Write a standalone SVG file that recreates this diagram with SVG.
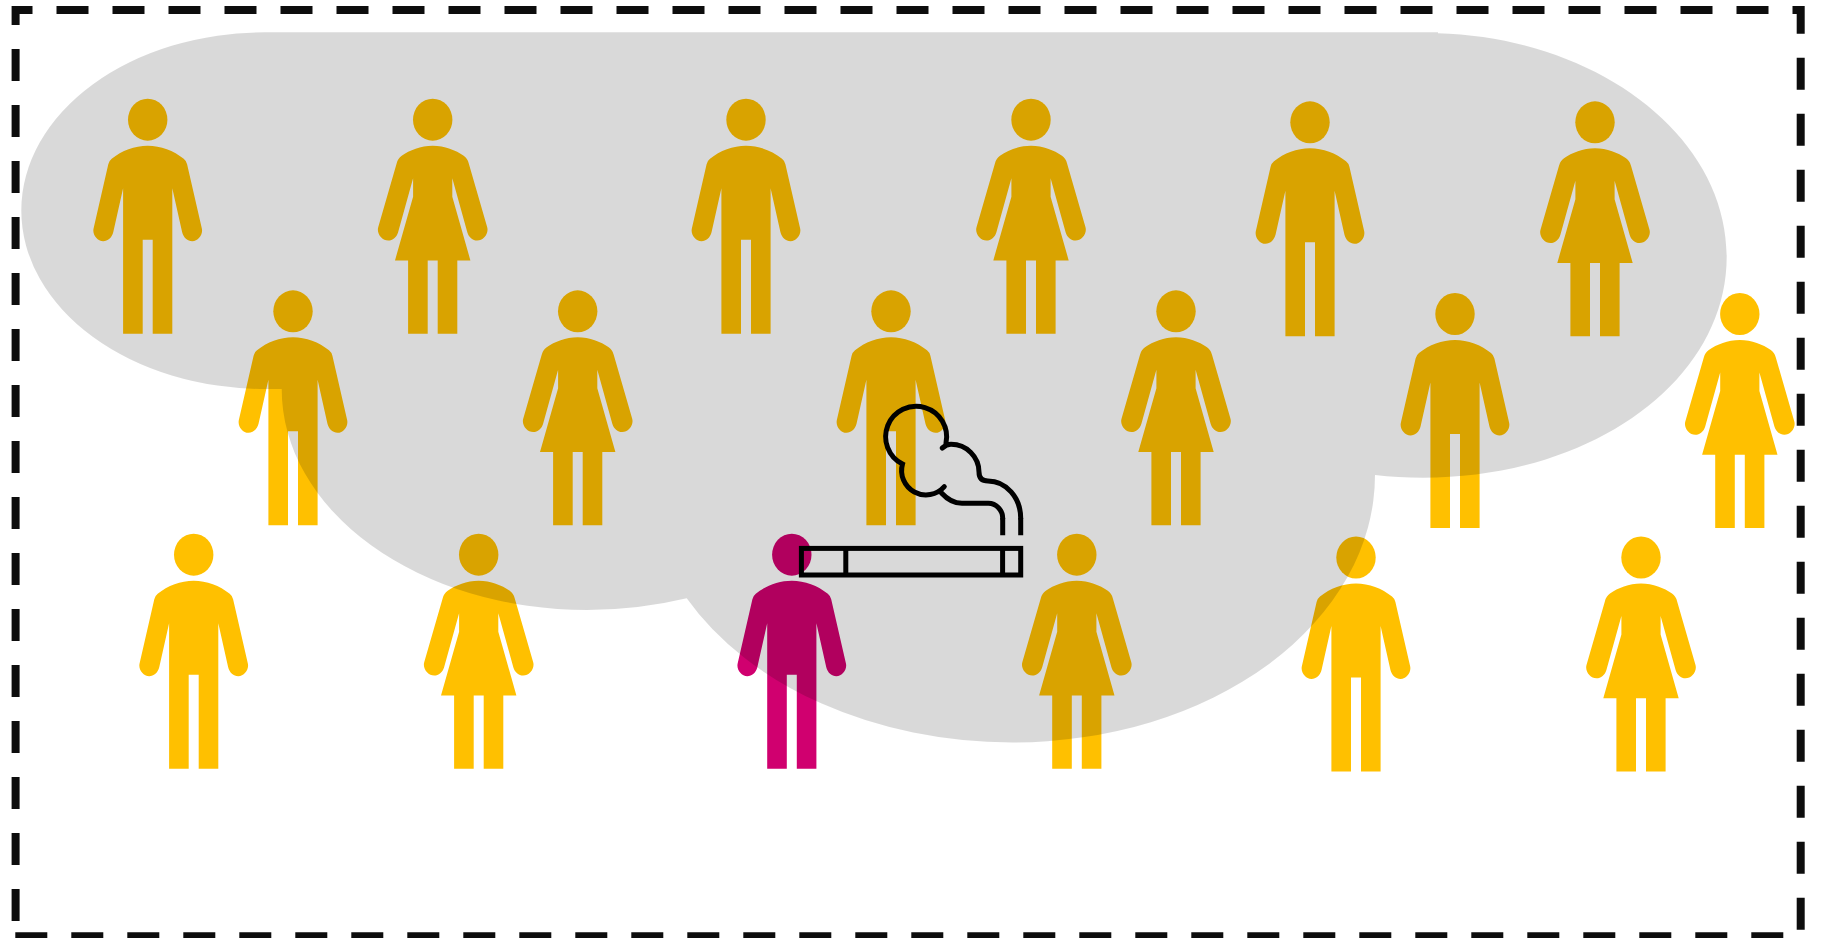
<svg xmlns="http://www.w3.org/2000/svg" width="1825" height="938" viewBox="0 0 1825 938">
<style>
.amber{fill:#ffc000}
.magenta{fill:#d0006f}
.frame{fill:none;stroke:#0d0d0d;stroke-width:8;stroke-dasharray:32 24;stroke-miterlimit:10}
.cloud{fill:#000;fill-opacity:.15}
.ink{fill:none;stroke:#000;stroke-width:5}
.round{stroke-linecap:round}
</style>
<defs>
<g id="man"><ellipse rx="19.7" ry="21"/><path d="M-24.6 214V68.5L-34.4 112.3C-35.7 118-40 121.5-44.5 121.5C-50.5 121.5-55.4 115-54.2 109L-39.4 44.5Q-38.6 41-36 39C-26 31-13 26 0 26C13 26 26 31 36 39Q38.6 41 39.4 44.5L54.2 109C55.4 115 50.5 121.5 44.5 121.5C40 121.5 35.7 118 34.4 112.3L24.6 68.5V214H5V120H-5V214Z"/></g>
<g id="woman"><ellipse rx="19.7" ry="21"/><path d="M-24.6 214V140.7H-37.7L-19.6 77V58.5L-34.6 112.5C-36 117.5-40 120.8-44.5 120.8C-50.5 120.8-56.3 114-54.5 107.5L-36 43.5Q-34.8 38.5-31 36C-23 30.5-12 26 0 26C12 26 23 30.5 31 36Q34.8 38.5 36 43.5L54.5 107.5C56.3 114 50.5 120.8 44.5 120.8C40 120.8 36 117.5 34.6 112.5L19.6 58.5V77L37.7 140.7H24.6V214H5V140.7H-5V214Z"/></g>
</defs>
<g id="people">
<g id="p1" class="amber" transform="translate(147.7 119.7)"><use href="#man"/></g>
<g id="p2" class="amber" transform="translate(432.7 119.7)"><use href="#woman"/></g>
<g id="p3" class="amber" transform="translate(746 119.7)"><use href="#man"/></g>
<g id="p4" class="amber" transform="translate(1031 119.7)"><use href="#woman"/></g>
<g id="p5" class="amber" transform="translate(1310 122.3)"><use href="#man"/></g>
<g id="p6" class="amber" transform="translate(1595 122.3)"><use href="#woman"/></g>
<g id="p7" class="amber" transform="translate(293 311.3)"><use href="#man"/></g>
<g id="p8" class="amber" transform="translate(577.7 311.3)"><use href="#woman"/></g>
<g id="p9" class="amber" transform="translate(891 311.3)"><use href="#man"/></g>
<g id="p10" class="amber" transform="translate(1176 311.3)"><use href="#woman"/></g>
<g id="p11" class="amber" transform="translate(1455 314)"><use href="#man"/></g>
<g id="p12" class="amber" transform="translate(1739.8 314)"><use href="#woman"/></g>
<g id="p13" class="amber" transform="translate(193.7 554.7)"><use href="#man"/></g>
<g id="p14" class="amber" transform="translate(478.7 554.7)"><use href="#woman"/></g>
<g id="smoker" class="magenta" transform="translate(791.8 554.7)"><use href="#man"/></g>
<g id="p16" class="amber" transform="translate(1076.8 554.7)"><use href="#woman"/></g>
<g id="p17" class="amber" transform="translate(1356 557.5)"><use href="#man"/></g>
<g id="p18" class="amber" transform="translate(1641 557.5)"><use href="#woman"/></g>
</g>
<path id="smoke-cloud" class="cloud" d="M265 32.3A243.7 178.3 0 0 0 21.3 210.6A243.7 178.4 0 0 0 265 389H281.7A305.3 221 0 0 0 587 610A310 221 0 0 0 686.7 598.3A366.6 267.5 0 0 0 1012 742.5A363 267.5 0 0 0 1375 475C1390 476.7 1406 477.7 1423 477.7C1593 477.7 1726.7 380 1726.7 256.7C1726.7 135 1596 37.6 1438 33.3V32.3Z"/>
<g id="cigarette">
<rect class="ink" x="801.4" y="548.4" width="219.3" height="26.6"/>
<path class="ink" d="M845.8 546V577M1002.6 546V577"/>
<path class="ink" d="M1020.7 535.3V518M1002.7 535.3V518"/>
<path class="ink round" d="M1020.7 518.3A32.7 37.3 0 0 0 988 481Q979 481 979 472A28 27.7 0 0 0 951 444.3Q946.5 444.3 942.3 448"/>
<path class="ink round" d="M946 443A30.5 30.5 0 1 0 902.5 464A24.4 24.4 0 0 0 944.3 486.7"/>
<path class="ink round" d="M941.5 493C947 499 954 503.3 962 503.3H988.3A14.4 15 0 0 1 1002.7 518.3"/>
</g>
<g id="boundary" class="frame">
<path d="M15.6 25V9.9H1800.7V936.3H15.3"/>
<path d="M15.6 49V921"/>
</g>
</svg>
